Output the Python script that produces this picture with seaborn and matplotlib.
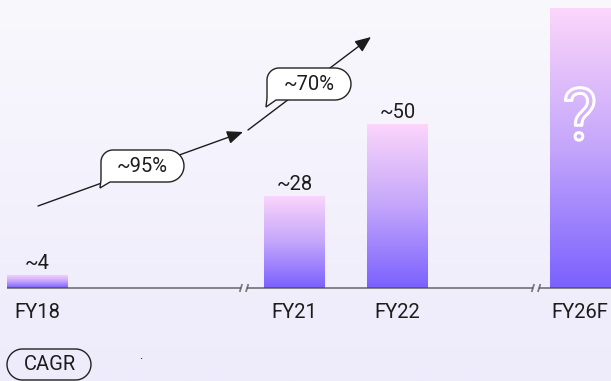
import numpy as np
import pandas as pd
import matplotlib
matplotlib.use("Agg")
import matplotlib.pyplot as plt
import matplotlib.transforms as mtransforms
import matplotlib.patheffects as pe
from matplotlib.path import Path
from matplotlib.patches import PathPatch
from matplotlib.colors import LinearSegmentedColormap
import seaborn as sns

# ---- data -------------------------------------------------------------
years = ["FY18", "FY21", "FY22", "FY26F"]
positions = [0.0, 2.5, 3.5, 5.27]          # compressed time axis (breaks between)
values = [4, 28, 50, 85]
value_labels = ["~4", "~28", "~50", ""]
cagr_labels = ["~95%", "~70%"]
legend_label = "CAGR"

# ---- canvas -------------------------------------------------------------
W, H = 611, 381
FS = 14.5
INK = "#1c1c1c"
sns.set_theme(style="white")
plt.rcParams["font.family"] = ["Roboto", "DejaVu Sans"]

fig = plt.figure(figsize=(W / 100, H / 100), dpi=100)
fig.patch.set_facecolor("#F4F2FD")

# soft lavender background wash
bg = fig.add_axes([0, 0, 1, 1], zorder=-10)
bg_cmap = LinearSegmentedColormap.from_list("bg", ["#F9F8FD", "#EEEBFB"])
bg.imshow(np.linspace(0, 1, 256).reshape(-1, 1), cmap=bg_cmap, aspect="auto",
          extent=[0, 1, 0, 1], origin="upper")
bg.axis("off")

# pixel helper for annotations (origin top-left)
pix = mtransforms.Affine2D().scale(1 / W, -1 / H).translate(0, 1) + fig.transFigure

base_px = 288
px_per_unit = 3.29
ax = fig.add_axes([0, (H - base_px) / H, 1, base_px / H])
ax.patch.set_alpha(0)

df = pd.DataFrame({"pos": positions, "value": values, "year": years})
sns.barplot(data=df, x="pos", y="value", native_scale=True, width=0.583,
            color="#7B62FE", linewidth=0, ax=ax, zorder=2)
ax.set_xlabel("")
ax.set_ylabel("")

x_left = -37 / 103
x_right = (W - 37) / 103
ax.set_xlim(x_left, x_right)
ax.set_ylim(0, base_px / px_per_unit)

# vertical pink-to-violet fill inside every bar
bar_cmap = LinearSegmentedColormap.from_list(
    "bar", [(0, "#7A61FE"), (0.5, "#C4A6FB"), (1, "#FCD6FA")])
grad = np.linspace(0, 1, 256).reshape(-1, 1)
for p in list(ax.patches):
    x0, y0, w, h = p.get_x(), p.get_y(), p.get_width(), p.get_height()
    im = ax.imshow(grad, cmap=bar_cmap, origin="lower", aspect="auto",
                   extent=[x0, x0 + w, y0, y0 + h], zorder=2)
    im.set_clip_path(p)
    p.set_facecolor("none")
ax.set_xlim(x_left, x_right)
ax.set_ylim(0, base_px / px_per_unit)

# value labels above bars
for xpos, val, lab in zip(positions, values, value_labels):
    if lab:
        ax.annotate(lab, (xpos, val), xytext=(0, 4), textcoords="offset points",
                    ha="center", va="baseline", fontsize=FS, color=INK)

# question mark on the forecast bar
ax.text(positions[3], values[3] * 0.6, "?", ha="center", va="center",
        fontsize=52, color="none", zorder=4,
        path_effects=[pe.Stroke(linewidth=2.2, foreground="white")])

# ticks
ax.set_xticks(positions, years)
ax.tick_params(axis="x", length=0, pad=11, labelsize=FS, labelcolor=INK)
ax.set_yticks([])
for s in ax.spines.values():
    s.set_visible(False)

# broken baseline
bar_half = 0.583 / 2
breaks = [2.01, 4.845]
gap = 0.03
seg_x = [positions[0] - bar_half, breaks[0] - gap, breaks[0] + gap,
         breaks[1] - gap, breaks[1] + gap, x_right]
line_kw = dict(color="#4a4a4a", lw=1.3, alpha=0.7, clip_on=False, zorder=3,
               solid_capstyle="butt")
for a, b in zip(seg_x[0::2], seg_x[1::2]):
    ax.plot([a, b], [0, 0], **line_kw)
for bx in breaks:
    for dx in (-gap, gap):
        ax.plot([bx + dx - 0.012, bx + dx + 0.012], [-1.2, 1.2], **line_kw)


# ---- speech bubbles -------------------------------------------------------
def bubble_path(x0, y0, x1, y1, tip=None, rl=12, tail_w=9, n=24):
    r = (y1 - y0) / 2
    pts = [(x0 + rl, y0), (x1 - r, y0)]
    cx, cy = x1 - r, y0 + r
    for t in np.linspace(-np.pi / 2, np.pi / 2, n):
        pts.append((cx + r * np.cos(t), cy + r * np.sin(t)))
    if tip is not None:
        pts += [(x0 + tail_w, y1), tip, (x0, y1 - 2)]
    else:
        cx2, cy2 = x0 + rl, y1 - rl
        for t in np.linspace(np.pi / 2, np.pi, n):
            pts.append((cx2 + rl * np.cos(t), cy2 + rl * np.sin(t)))
    cx3, cy3 = x0 + rl, y0 + rl
    for t in np.linspace(np.pi, 1.5 * np.pi, n):
        pts.append((cx3 + rl * np.cos(t), cy3 + rl * np.sin(t)))
    pts.append(pts[0])
    return Path(pts, closed=True)


arrow_kw = dict(arrowstyle="-|>,head_length=0.6,head_width=0.25", color=INK,
                lw=1.0, mutation_scale=16, shrinkA=0, shrinkB=0)
ax.annotate("", xy=(243, 132), xytext=(38, 206), xycoords=pix, textcoords=pix,
            arrowprops=arrow_kw, annotation_clip=False, zorder=4)
ax.annotate("", xy=(371, 37), xytext=(248, 130), xycoords=pix, textcoords=pix,
            arrowprops=arrow_kw, annotation_clip=False, zorder=4)

bubbles = [((101, 150, 184, 182), (100, 188)),
           ((267, 68, 351, 100), (266, 107))]
for (box, tip), lab in zip(bubbles, cagr_labels):
    x0, y0, x1, y1 = box
    fig.add_artist(PathPatch(bubble_path(x0, y0, x1, y1, tip), transform=pix,
                             facecolor="white", edgecolor="#222222", lw=1.0,
                             zorder=5))
    fig.text((x0 + x1) / 2, (y0 + y1) / 2 + 1, lab, transform=pix, ha="center",
             va="center", fontsize=FS, color=INK, zorder=6)

# legend pill
fig.add_artist(PathPatch(bubble_path(7, 349, 91, 380, None, rl=15.5), transform=pix,
                         facecolor="none", edgecolor="#222222", lw=1.0, zorder=5))
fig.text(50, 365, legend_label, transform=pix, ha="center", va="center",
         fontsize=FS, color=INK, zorder=6)
fig.text(141, 359, ".", transform=pix, ha="center", va="baseline",
         fontsize=9, color=INK)

fig.savefig("out.png", dpi=100)
